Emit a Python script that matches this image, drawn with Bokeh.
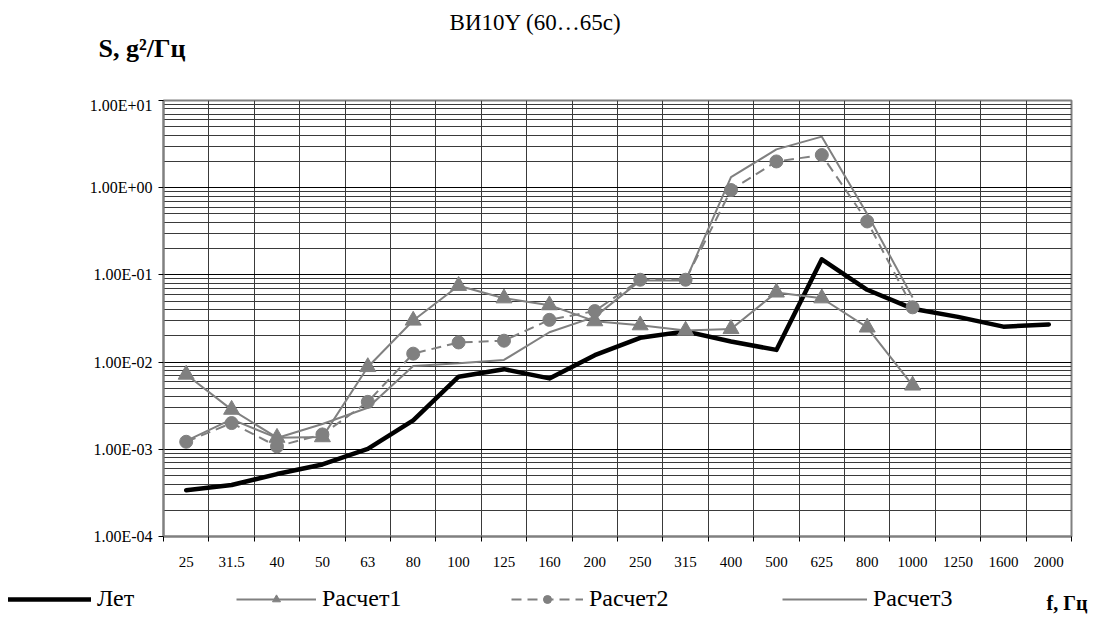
from bokeh.plotting import figure
from bokeh.layouts import column
from bokeh.models import (FixedTicker, CustomJSTickFormatter, Label, Legend,
                          LegendItem, Range1d)
from bokeh.embed import file_html
from bokeh.resources import INLINE

# ---------------- data ----------------
categories = ["25", "31.5", "40", "50", "63", "80", "100", "125", "160", "200",
              "250", "315", "400", "500", "625", "800", "1000", "1250", "1600", "2000"]

let_vals = [3.4e-4, 3.9e-4, 5.2e-4, 6.7e-4, 1.01e-3, 2.15e-3, 6.8e-3, 8.3e-3, 6.5e-3, 1.2e-2,
            1.9e-2, 2.25e-2, 1.72e-2, 1.38e-2, 0.151, 6.75e-2, 4.1e-2, 3.3e-2, 2.55e-2, 2.7e-2]

r1_vals = [7.2e-3, 2.85e-3, 1.36e-3, 1.38e-3, 8.8e-3, 3.0e-2, 7.5e-2, 5.4e-2, 4.5e-2, 2.95e-2,
           2.65e-2, 2.3e-2, 2.4e-2, 6.3e-2, 5.4e-2, 2.5e-2, 5.4e-3]

r2_vals = [1.22e-3, 2.0e-3, 1.08e-3, 1.48e-3, 3.5e-3, 1.25e-2, 1.68e-2, 1.76e-2, 3.05e-2, 3.85e-2,
           8.8e-2, 8.8e-2, 0.94, 2.0, 2.37, 0.41, 4.25e-2]

r3_vals = [1.25e-3, 2.2e-3, 1.35e-3, 1.95e-3, 3.0e-3, 9.0e-3, 9.7e-3, 1.06e-2, 2.2e-2, 3.3e-2,
           8.6e-2, 8.6e-2, 1.32, 2.75, 3.85, 0.50, 5.5e-2]

y_tick_values = [1e-4, 1e-3, 1e-2, 1e-1, 1e0, 1e1]
y_tick_labels = ["1.00E-04", "1.00E-03", "1.00E-02", "1.00E-01", "1.00E+00", "1.00E+01"]

series_names = ["Лет", "Расчет1", "Расчет2", "Расчет3"]
title_text = "ВИ10Y (60…65с)"
y_title = "S, g²/Гц"
x_title = "f, Гц"

# ---------------- styles ----------------
W = 1097
GRAY = "#808080"
GRID = "#3a3a3a"
FONT = "Liberation Serif"
STYLE_LET = dict(line_color="black", line_width=4.5, line_join="round", line_cap="round")
STYLE_LINE = dict(line_color=GRAY, line_width=2)
STYLE_DASH = dict(line_color=GRAY, line_width=2, line_dash="10 6")
STYLE_TRI = dict(marker="triangle", size=16, fill_color=GRAY, line_color=GRAY)
STYLE_CIR = dict(marker="circle", size=13, fill_color=GRAY, line_color=GRAY)

def blank(height):
    f = figure(width=W, height=height, x_range=Range1d(1000, 1000 + W), y_range=Range1d(0, height),
               x_axis_location=None, y_axis_location=None,
               output_backend="svg", toolbar_location=None, frame_align=False,
               min_border_left=0, min_border_right=0, min_border_top=0, min_border_bottom=0)
    f.grid.visible = False
    f.outline_line_color = None
    f.background_fill_color = "white"
    f.border_fill_color = "white"
    return f

# ---------------- top strip: title + y title ----------------
TOP_H = 96
top = blank(TOP_H)
top.add_layout(Label(x=535, y=TOP_H - 22, x_units="screen", y_units="screen", text=title_text,
                     text_align="center", text_baseline="middle", text_font=FONT,
                     text_font_size="23px", text_color="black"))
top.add_layout(Label(x=98, y=TOP_H - 48, x_units="screen", y_units="screen", text=y_title,
                     text_align="left", text_baseline="middle", text_font=FONT,
                     text_font_size="26px", text_font_style="bold", text_color="black"))

# ---------------- main chart ----------------
n = len(categories)
idx = list(range(n))

p = figure(width=W, height=480, y_axis_type="log",
           x_range=Range1d(-0.5, n - 0.5), y_range=Range1d(y_tick_values[0], y_tick_values[-1]),
           output_backend="svg", toolbar_location=None, frame_align=False,
           min_border_left=163, min_border_right=26, min_border_top=4, min_border_bottom=40)
p.background_fill_color = "white"
p.border_fill_color = "white"
p.outline_line_color = GRAY
p.outline_line_width = 2

bounds = [i - 0.5 for i in range(n + 1)]
p.xaxis.ticker = FixedTicker(ticks=idx, minor_ticks=bounds)
p.xaxis.formatter = CustomJSTickFormatter(args=dict(labs=categories), code="""
const i = Math.round(tick);
return (i >= 0 && i < labs.length) ? labs[i] : "";
""")
p.xaxis.major_tick_out = 0
p.xaxis.major_tick_in = 0
p.xaxis.minor_tick_out = 5
p.xaxis.minor_tick_in = 0
p.xaxis.minor_tick_line_color = "black"
p.xaxis.axis_line_color = GRAY
p.xaxis.axis_line_width = 2
p.xaxis.major_label_standoff = 15
p.xaxis.major_label_text_font = FONT
p.xaxis.major_label_text_font_size = "15px"
p.xaxis.major_label_text_color = "black"

p.xgrid.ticker = FixedTicker(ticks=bounds)
p.xgrid.grid_line_color = GRID
p.xgrid.grid_line_width = 1

minors = [m * d for d in y_tick_values[:-1] for m in range(2, 10)]
yt = FixedTicker(ticks=y_tick_values, minor_ticks=minors)
p.yaxis.ticker = yt
p.yaxis.formatter = CustomJSTickFormatter(args=dict(vals=y_tick_values, labs=y_tick_labels), code="""
let best = 0, bd = Infinity;
for (let i = 0; i < vals.length; i++) {
  const d = Math.abs(Math.log10(tick) - Math.log10(vals[i]));
  if (d < bd) { bd = d; best = i; }
}
return labs[best];
""")
p.yaxis.major_tick_out = 5
p.yaxis.major_tick_in = 0
p.yaxis.minor_tick_out = 0
p.yaxis.minor_tick_in = 0
p.yaxis.major_tick_line_color = "black"
p.yaxis.axis_line_color = GRAY
p.yaxis.axis_line_width = 2
p.yaxis.major_label_standoff = 6
p.yaxis.major_label_text_font = FONT
p.yaxis.major_label_text_font_size = "16px"
p.yaxis.major_label_text_color = "black"

p.ygrid.ticker = yt
p.ygrid.grid_line_color = "black"
p.ygrid.grid_line_width = 1
p.ygrid.minor_grid_line_color = GRID
p.ygrid.minor_grid_line_width = 1

p.line(idx, let_vals, **STYLE_LET)
x1 = idx[:len(r1_vals)]
p.line(x1, r1_vals, **STYLE_LINE)
p.scatter(x1, r1_vals, **STYLE_TRI)
x2 = idx[:len(r2_vals)]
p.line(x2, r2_vals, **STYLE_DASH)
p.scatter(x2, r2_vals, **STYLE_CIR)
x3 = idx[:len(r3_vals)]
p.line(x3, r3_vals, **STYLE_LINE)

# ---------------- bottom strip: legend + x title ----------------
BOT_H = 615 - TOP_H - 480
bot = blank(BOT_H)
# legend swatch renderers (same series data, lying outside this strip's visible range)
k0 = bot.line(idx, let_vals, **STYLE_LET)
k1 = bot.line(x1, r1_vals, **STYLE_LINE)
k1m = bot.scatter(x1, r1_vals, **STYLE_TRI)
k2 = bot.line(x2, r2_vals, **STYLE_DASH)
k2m = bot.scatter(x2, r2_vals, **STYLE_CIR)
k3 = bot.line(x3, r3_vals, **STYLE_LINE)

def add_legend(label, renderers, vx, gw):
    leg = Legend(items=[LegendItem(label=label, renderers=renderers)],
                 location=(vx, 3), orientation="horizontal",
                 glyph_width=gw, glyph_height=20, label_height=20, label_width=10,
                 label_standoff=6, padding=0, margin=0, spacing=0,
                 border_line_color=None, background_fill_alpha=0,
                 label_text_font=FONT, label_text_font_size="24px",
                 label_text_color="black")
    bot.add_layout(leg, "center")

add_legend(series_names[0], [k0], 8, 83)
add_legend(series_names[1], [k1, k1m], 236, 80)
add_legend(series_names[2], [k2, k2m], 511, 72)
add_legend(series_names[3], [k3], 782, 85)

bot.add_layout(Label(x=1046, y=13, x_units="screen", y_units="screen", text=x_title,
                     text_align="left", text_baseline="middle", text_font=FONT,
                     text_font_size="20px", text_font_style="bold", text_color="black"))

layout = column(top, p, bot, spacing=0)
open("out.html", "w").write(file_html(layout, INLINE))
